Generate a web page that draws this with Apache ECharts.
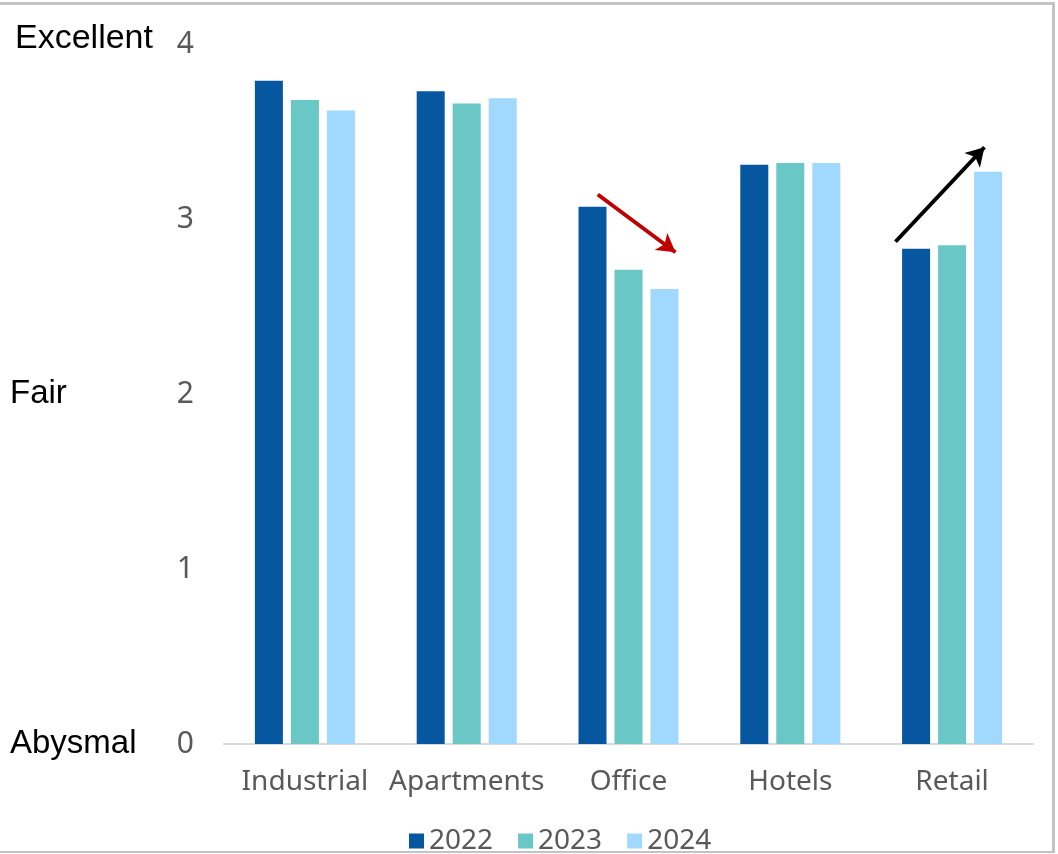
<!DOCTYPE html>
<html>
<head>
<meta charset="utf-8">
<script src="https://cdn.jsdelivr.net/npm/echarts@6/dist/echarts.min.js"></script>
<style>
  html,body{margin:0;padding:0;background:#fff;}
  #chart{width:1058px;height:854px;}
  #frame{position:absolute;left:0;top:2px;width:1055px;height:851px;
    border-top:3px solid #c3c3c3;border-right:3px solid #c3c3c3;border-bottom:2px solid #c3c3c3;box-sizing:border-box;pointer-events:none;}
</style>
</head>
<body>
<div id="chart"></div>
<div id="frame"></div>
<script>
// ---- data ----
const categories = ['Industrial','Apartments','Office','Hotels','Retail'];
const years = ['2022','2023','2024'];
const v2022 = [3.79, 3.73, 3.07, 3.31, 2.83];
const v2023 = [3.68, 3.66, 2.71, 3.32, 2.85];
const v2024 = [3.62, 3.69, 2.60, 3.32, 3.27];
const yTicks = [0, 1, 2, 3, 4];
const ratingNames = { 4:'Excellent', 2:'Fair', 0:'Abysmal' };
// arrows in data units: [category position, score]
const officeArrow = [[1.81, 3.14], [2.29, 2.81]];
const retailArrow = [[3.65, 2.87], [4.20, 3.41]];

const C = { y22:'#0657a0', y23:'#69c7c6', y24:'#a0d9fd', grey:'#595959', axis:'#d9d9d9', red:'#c00000' };
const chart = echarts.init(document.getElementById('chart'));

function bar(name, data, color){
  return { name, type:'bar', data, barWidth:28, barGap:'28.6%', itemStyle:{ color }, animation:false };
}
function arrow(pts, color){
  return {
    type:'line', xAxisIndex:1, data:pts, symbol:'none', lineStyle:{ opacity:0 }, silent:true, animation:false,
    markLine:{
      silent:true, animation:false, symbol:['none','arrow'], symbolSize:[16,18],
      label:{ show:false }, lineStyle:{ type:'solid', width:4, color },
      data:[[{ coord:pts[0] }, { coord:pts[1] }]]
    }
  };
}

chart.setOption({
  backgroundColor:'#fff',
  grid:{ left:224, right:25, top:44, bottom:110 },
  legend:{
    data:years, left:404, top:822, itemWidth:15, itemHeight:15, itemGap:25, icon:'rect',
    textStyle:{ color:C.grey, fontSize:28, fontFamily:'Noto Sans' }
  },
  xAxis:[
    { type:'category', data:categories, axisTick:{ show:false },
      axisLine:{ lineStyle:{ color:C.axis, width:2 } },
      axisLabel:{ interval:0, color:C.grey, fontSize:28, fontFamily:'Noto Sans', margin:24, lineHeight:28 } },
    { type:'value', min:-0.5, max:4.5, show:false }
  ],
  yAxis:[
    { type:'value', min:0, max:4, interval:1, splitLine:{ show:false },
      axisLine:{ show:false }, axisTick:{ show:false },
      axisLabel:{ color:C.grey, fontSize:30, fontFamily:'Noto Sans', margin:30,
        customValues:yTicks } },
    { type:'value', min:0, max:4, interval:1, position:'left', splitLine:{ show:false },
      axisLine:{ show:false }, axisTick:{ show:false },
      axisLabel:{ align:'left', margin:214, color:'#000', fontSize:33, fontFamily:'Liberation Sans',
        formatter:v => ratingNames[v] ? (v === 4 ? '{top|' + ratingNames[v] + '}' : ratingNames[v]) : '',
        rich:{ top:{ fontSize:34, fontFamily:'Liberation Sans', color:'#000', padding:[0,0,10,5] } } } }
  ],
  series:[
    bar('2022', v2022, C.y22),
    bar('2023', v2023, C.y23),
    bar('2024', v2024, C.y24),
    arrow(officeArrow, C.red),
    arrow(retailArrow, '#000')
  ]
});
</script>
</body>
</html>
